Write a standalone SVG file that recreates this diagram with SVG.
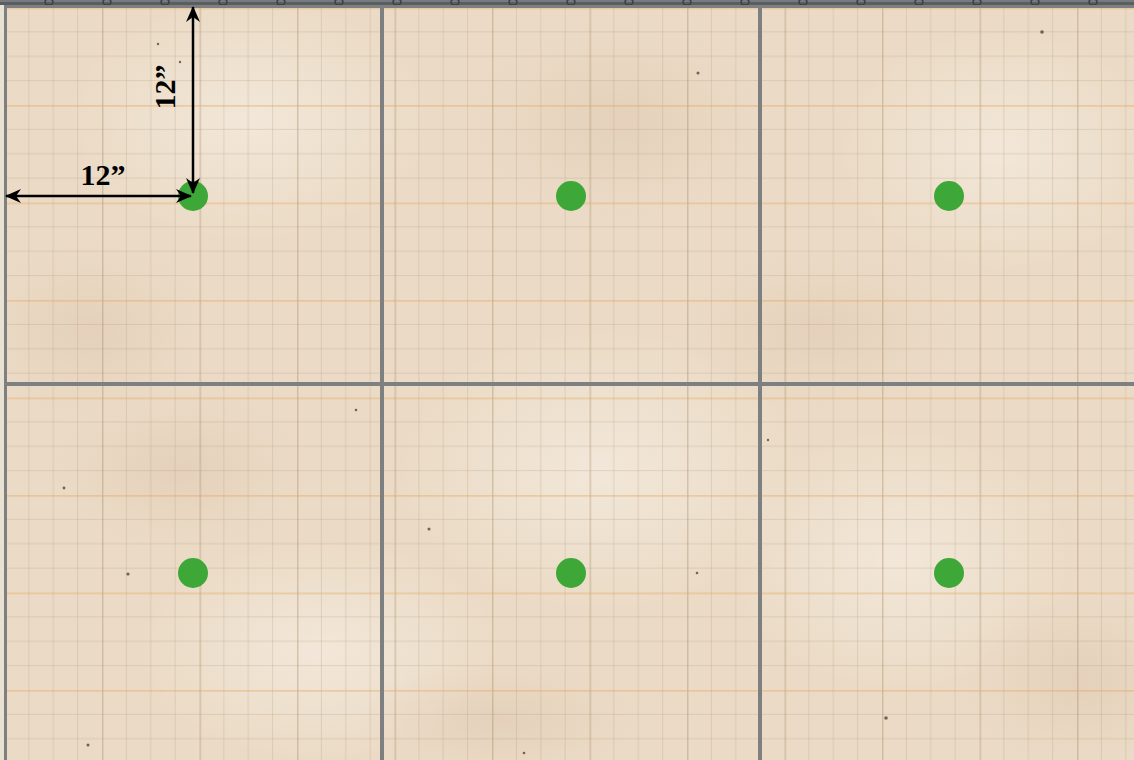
<svg xmlns="http://www.w3.org/2000/svg" width="1134" height="760" viewBox="0 0 1134 760">
  <style>
    .sep { fill: #7e7f80; }
    .dot { fill: #3da737; }
    .arrow { stroke: #000; stroke-width: 2.5; fill: none; }
    .lbl { font-family: "Liberation Serif", "DejaVu Serif", serif; font-weight: bold; font-size: 30px; fill: #000; }
    .speck { fill: #3a3028; opacity: 0.7; }
    .ring { fill: none; stroke: #3c3f42; stroke-width: 1.5; }
  </style>
  <defs>
    <pattern id="grid" patternUnits="userSpaceOnUse" x="4.5" y="7.5" width="97.5" height="97.5">
      <g stroke="#a88d6c" stroke-opacity="0.24" stroke-width="1">
        <line x1="24.375" y1="0" x2="24.375" y2="97.5"/>
        <line x1="48.75" y1="0" x2="48.75" y2="97.5"/>
        <line x1="73.125" y1="0" x2="73.125" y2="97.5"/>
        <line x1="0" y1="24.375" x2="97.5" y2="24.375"/>
        <line x1="0" y1="48.75" x2="97.5" y2="48.75"/>
        <line x1="0" y1="73.125" x2="97.5" y2="73.125"/>
      </g>
      <line x1="0.75" y1="0" x2="0.75" y2="97.5" stroke="#a0845f" stroke-opacity="0.36" stroke-width="1.5"/>
      <line x1="0" y1="0.75" x2="97.5" y2="0.75" stroke="#e2a661" stroke-opacity="0.42" stroke-width="2"/>
    </pattern>
    <radialGradient id="blotA" cx="0.5" cy="0.5" r="0.5">
      <stop offset="0" stop-color="#f4ebdf" stop-opacity="0.75"/>
      <stop offset="1" stop-color="#f4ebdf" stop-opacity="0"/>
    </radialGradient>
    <radialGradient id="blotB" cx="0.5" cy="0.5" r="0.5">
      <stop offset="0" stop-color="#dcc2aa" stop-opacity="0.4"/>
      <stop offset="1" stop-color="#dcc2aa" stop-opacity="0"/>
    </radialGradient>
    <marker id="ah" viewBox="0 0 16 14" markerWidth="16" markerHeight="14" refX="15" refY="7" orient="auto-start-reverse" markerUnits="userSpaceOnUse">
      <path d="M0,0 L16,7 L0,14 L5,7 Z" fill="#000"/>
    </marker>
  </defs>

  <!-- parchment background -->
  <g id="board">
    <rect x="0" y="0" width="1134" height="760" fill="#ebdbc6"/>
    <ellipse cx="250" cy="120" rx="180" ry="120" fill="url(#blotA)"/>
    <ellipse cx="600" cy="470" rx="200" ry="140" fill="url(#blotA)"/>
    <ellipse cx="1000" cy="150" rx="160" ry="120" fill="url(#blotA)"/>
    <ellipse cx="320" cy="650" rx="180" ry="110" fill="url(#blotA)"/>
    <ellipse cx="900" cy="560" rx="170" ry="130" fill="url(#blotA)"/>
    <ellipse cx="620" cy="120" rx="150" ry="100" fill="url(#blotB)"/>
    <ellipse cx="90" cy="330" rx="120" ry="90" fill="url(#blotB)"/>
    <ellipse cx="820" cy="330" rx="140" ry="80" fill="url(#blotB)"/>
    <ellipse cx="180" cy="470" rx="130" ry="80" fill="url(#blotB)"/>
    <ellipse cx="1080" cy="680" rx="120" ry="90" fill="url(#blotB)"/>
    <ellipse cx="500" cy="720" rx="140" ry="60" fill="url(#blotB)"/>
    <rect x="0" y="0" width="1134" height="760" fill="url(#grid)"/>
    <!-- specks -->
    <circle class="speck" cx="698" cy="73" r="1.5"/>
    <circle class="speck" cx="128" cy="574" r="1.6"/>
    <circle class="speck" cx="429" cy="529" r="1.5"/>
    <circle class="speck" cx="697" cy="573" r="1.3"/>
    <circle class="speck" cx="886" cy="718" r="1.8"/>
    <circle class="speck" cx="88" cy="745" r="1.5"/>
    <circle class="speck" cx="64" cy="488" r="1.4"/>
    <circle class="speck" cx="356" cy="410" r="1.3"/>
    <circle class="speck" cx="524" cy="753" r="1.3"/>
    <circle class="speck" cx="1042" cy="32" r="1.8"/>
    <circle class="speck" cx="158" cy="44" r="1.2"/>
    <circle class="speck" cx="180" cy="62" r="1.2"/>
    <circle class="speck" cx="768" cy="440" r="1.2"/>
  </g>

  <!-- frame and tile separators -->
  <g id="frame">
    <rect x="0" y="0" width="1134" height="5" fill="#5a5e61"/>
    <rect x="0" y="0" width="1134" height="2" fill="#767b7f"/>
    <g class="ring">
      <ellipse cx="49" cy="2" rx="4" ry="3"/>
      <ellipse cx="107" cy="2" rx="4" ry="3"/>
      <ellipse cx="165" cy="2" rx="4" ry="3"/>
      <ellipse cx="223" cy="2" rx="4" ry="3"/>
      <ellipse cx="281" cy="2" rx="4" ry="3"/>
      <ellipse cx="339" cy="2" rx="4" ry="3"/>
      <ellipse cx="397" cy="2" rx="4" ry="3"/>
      <ellipse cx="455" cy="2" rx="4" ry="3"/>
      <ellipse cx="513" cy="2" rx="4" ry="3"/>
      <ellipse cx="571" cy="2" rx="4" ry="3"/>
      <ellipse cx="629" cy="2" rx="4" ry="3"/>
      <ellipse cx="687" cy="2" rx="4" ry="3"/>
      <ellipse cx="745" cy="2" rx="4" ry="3"/>
      <ellipse cx="803" cy="2" rx="4" ry="3"/>
      <ellipse cx="861" cy="2" rx="4" ry="3"/>
      <ellipse cx="919" cy="2" rx="4" ry="3"/>
      <ellipse cx="977" cy="2" rx="4" ry="3"/>
      <ellipse cx="1035" cy="2" rx="4" ry="3"/>
      <ellipse cx="1093" cy="2" rx="4" ry="3"/>
    </g>
    <rect x="0" y="5" width="1134" height="3" class="sep"/>
    <rect x="0" y="5" width="4" height="755" fill="#e9e2d2"/>
    <rect x="4" y="6" width="3" height="754" class="sep"/>
    <rect x="380" y="6" width="4" height="754" class="sep"/>
    <rect x="758" y="6" width="4" height="754" class="sep"/>
    <rect x="4" y="382" width="1130" height="4" class="sep"/>
  </g>

  <!-- nodes: green markers -->
  <g id="dot-1"><circle class="dot" cx="193" cy="196" r="15"/></g>
  <g id="dot-2"><circle class="dot" cx="571" cy="196" r="15"/></g>
  <g id="dot-3"><circle class="dot" cx="949" cy="196" r="15"/></g>
  <g id="dot-4"><circle class="dot" cx="193" cy="573" r="15"/></g>
  <g id="dot-5"><circle class="dot" cx="571" cy="573" r="15"/></g>
  <g id="dot-6"><circle class="dot" cx="949" cy="573" r="15"/></g>

  <!-- connectors: dimension arrows -->
  <g id="connectors">
    <line class="arrow" x1="6" y1="196" x2="191" y2="196" marker-start="url(#ah)" marker-end="url(#ah)"/>
    <line class="arrow" x1="193" y1="7" x2="193" y2="193" marker-start="url(#ah)" marker-end="url(#ah)"/>
  </g>

  <!-- labels -->
  <g id="labels">
    <text class="lbl" x="103" y="185" text-anchor="middle">12”</text>
    <text class="lbl" transform="translate(175,87) rotate(-90)" text-anchor="middle">12”</text>
  </g>
</svg>
